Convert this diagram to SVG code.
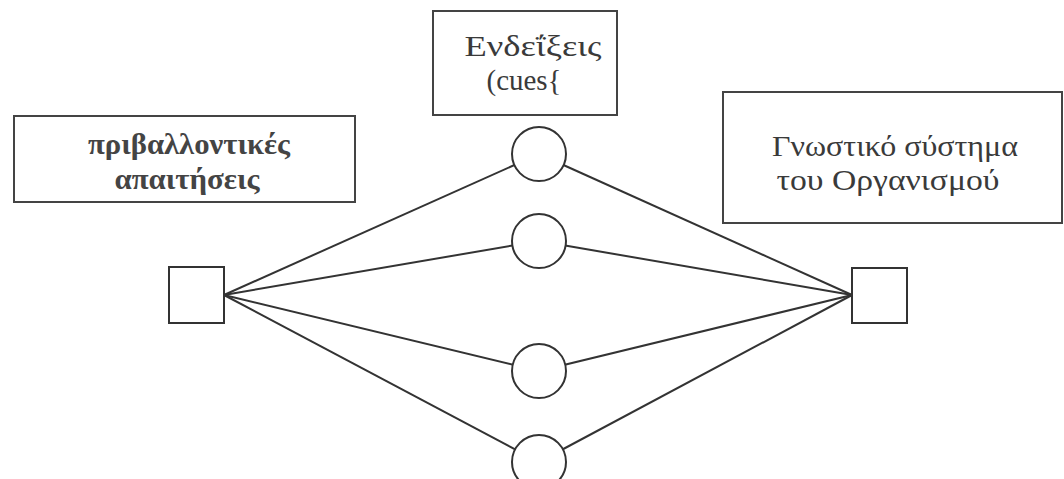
<svg xmlns="http://www.w3.org/2000/svg" width="1064" height="479" viewBox="0 0 1064 479">
<style>
.box{fill:#fff;stroke:#444;stroke-width:2}
.nd{fill:#fff;stroke:#333;stroke-width:2}
.ln{stroke:#333;stroke-width:2;fill:none}
.t{font-family:"Liberation Serif","DejaVu Serif",serif;font-size:29px;fill:#3a3a3a;text-anchor:middle}
.b{font-weight:bold;fill:#444}
</style>
<rect width="1064" height="479" fill="#fff"/>
<g id="connectors">
<line class="ln" x1="224" y1="295" x2="539" y2="154"/>
<line class="ln" x1="224" y1="295" x2="539" y2="241"/>
<line class="ln" x1="224" y1="295" x2="539" y2="371"/>
<line class="ln" x1="224" y1="295" x2="539" y2="462"/>
<line class="ln" x1="539" y1="154" x2="852" y2="295"/>
<line class="ln" x1="539" y1="241" x2="852" y2="295"/>
<line class="ln" x1="539" y1="371" x2="852" y2="295"/>
<line class="ln" x1="539" y1="462" x2="852" y2="295"/>
</g>
<g id="env-label">
<rect class="box" x="14" y="116" width="341" height="86"/>
<text class="t b" x="189" y="154" textLength="202" lengthAdjust="spacingAndGlyphs">πριβαλλοντικές</text>
<text class="t b" x="187" y="189" textLength="145" lengthAdjust="spacingAndGlyphs">απαιτήσεις</text>
</g>
<g id="cues-label">
<rect class="box" x="433" y="11" width="184" height="104"/>
<text class="t" x="533" y="56" textLength="137" lengthAdjust="spacingAndGlyphs">Ενδεΐξεις</text>
<text class="t" x="524" y="90" textLength="75" lengthAdjust="spacingAndGlyphs">(cues{</text>
</g>
<g id="cog-label">
<rect class="box" x="723" y="92" width="339" height="131"/>
<text class="t" x="895" y="156" textLength="246" lengthAdjust="spacingAndGlyphs">Γνωστικό σύστημα</text>
<text class="t" x="888" y="190" textLength="223" lengthAdjust="spacingAndGlyphs">του Οργανισμού</text>
</g>
<g id="env-node"><rect class="nd" x="169" y="267" width="55" height="56"/></g>
<g id="org-node"><rect class="nd" x="852" y="268" width="55" height="55"/></g>
<g id="cue1"><circle class="nd" cx="539" cy="154" r="27"/></g>
<g id="cue2"><circle class="nd" cx="539" cy="241" r="27"/></g>
<g id="cue3"><circle class="nd" cx="539" cy="371" r="27"/></g>
<g id="cue4"><circle class="nd" cx="539" cy="462" r="27"/></g>
</svg>
